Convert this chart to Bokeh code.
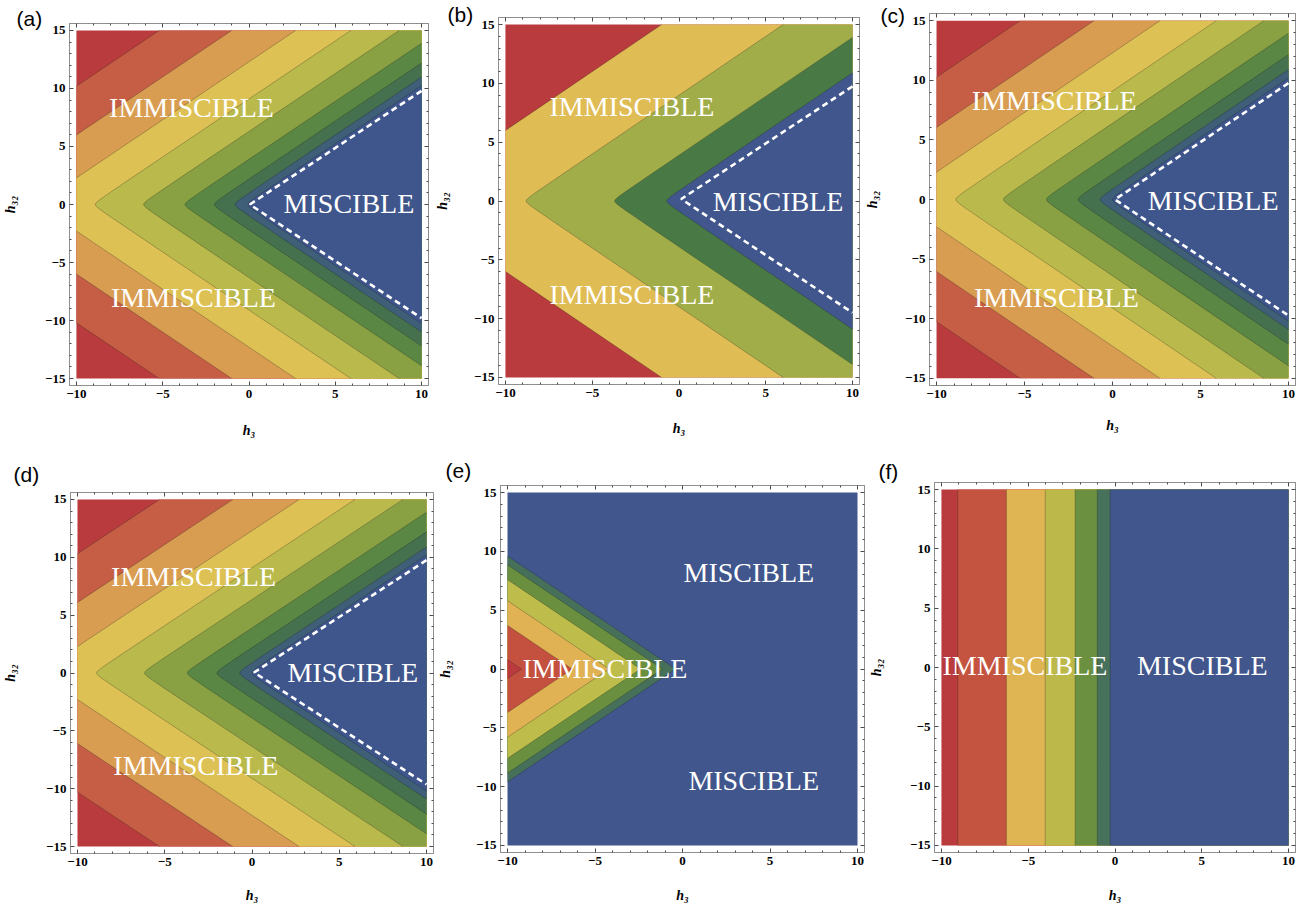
from bokeh.plotting import figure
from bokeh.models import ColumnDataSource, FixedTicker, LinearAxis, Range1d, Title
from bokeh.layouts import row, column
from bokeh.embed import file_html
from bokeh.resources import INLINE
from bokeh.core.properties import value

# ---------------- data ----------------
H3_LIMITS = [-10, 10]
H32_LIMITS = [-15, 15]
X_TICKS = [-10, -5, 0, 5, 10]
Y_TICKS = [-15, -10, -5, 0, 5, 10, 15]
X_MINOR = [v for v in range(-10, 11) if v % 5]
Y_MINOR = [v for v in range(-15, 16) if v % 5]
X_TITLE = "h\u2083"
Y_TITLE = "h\u2083\u2082"
PANEL_NAMES = ["(a)", "(b)", "(c)", "(d)", "(e)", "(f)"]

# contour boundaries (value of the level variable where the colour changes)
levels_a = [-20.2, -16.0, -12.3, -9.1, -6.3, -3.9, -2.2, -1.0, -0.25]
levels_b = [-16.0, -9.0, -3.9, -0.9]
levels_c = [-20.25, -16.05, -12.3, -9.1, -6.4, -3.95, -2.15, -0.9, -0.2]
levels_d = [-20.3, -16.1, -12.3, -9.1, -6.35, -3.9, -2.2, -0.9, -0.2]
levels_e = [-9.2, -6.3, -4.2, -2.4, -1.15, -0.4]
levels_f = [-9.06, -6.26, -4.02, -2.30, -1.02, -0.28]

colors_a = ["#B93B3D", "#C55E44", "#D99D52", "#DEC154", "#BABA4C",
            "#89A143", "#5A8743", "#46714F", "#3F5E77", "#3F568D"]
colors_b = ["#B93B3D", "#E0BC55", "#A1AD48", "#497A46", "#40568C"]
colors_e = ["#B93B3D", "#C4503F", "#E0B253", "#BEBC4A", "#6A903F", "#46705A", "#40568C"]
colors_f = ["#B93B3D", "#C4533F", "#DFB453", "#BDB84A", "#6A9040", "#47715A", "#40568C"]

# white dashed miscibility boundary
dash_x_a = [10, 0.05, 10]
dash_y_a = [9.8, 0.0, -9.8]
dash_x_b = [10, 0.13, 10]
dash_y_b = [9.75, 0.17, -9.5]
dash_x_c = [10, 0.14, 10]
dash_y_c = [9.76, 0.0, -9.73]
dash_x_d = [10, 0.12, 10]
dash_y_d = [9.75, 0.05, -9.63]

# region labels
text_a = ["IMMISCIBLE", "IMMISCIBLE", "MISCIBLE"]
tx_a = [-3.33, -3.22, 5.79]
ty_a = [8.4, -8.0, 0.06]
text_b = ["IMMISCIBLE", "IMMISCIBLE", "MISCIBLE"]
tx_b = [-2.71, -2.71, 5.71]
ty_b = [8.0, -7.97, 0.0]
text_c = ["IMMISCIBLE", "IMMISCIBLE", "MISCIBLE"]
tx_c = [-3.31, -3.19, 5.72]
ty_c = [8.3, -8.19, -0.05]
text_d = ["IMMISCIBLE", "IMMISCIBLE", "MISCIBLE"]
tx_d = [-3.35, -3.22, 5.78]
ty_d = [8.37, -8.0, 0.04]
text_e = ["MISCIBLE", "IMMISCIBLE", "MISCIBLE"]
tx_e = [3.79, -4.43, 4.07]
ty_e = [8.23, 0.01, -9.44]
text_f = ["IMMISCIBLE", "MISCIBLE"]
tx_f = [-5.19, 5.03]
ty_f = [0.13, 0.13]

# ---------------- styling / layout ----------------
FRAME = "#8f8f8f"
TICK = "#4a4a4a"
SERIF = "Liberation Serif"

# width, height, border l, r, t, b, y-title standoff, x-title standoff,
# panel-letter (offset, standoff), vertex rounding
GEOM = {
    "(a)": (432, 450, 66, 4, 23, 65, 24, 22, (-53, -12), 0.2),
    "(b)": (430, 450, 61, 3, 17, 66, 21, 21, (-51, -16), 0.2),
    "(c)": (438, 450, 62, 5, 13, 65, 22, 17, (-49, -26), 0.2),
    "(d)": (435, 455, 70, 2, 42, 51, 25, 19, (-57, 14), 0.2),
    "(e)": (431, 455, 62, 2, 35, 52, 20, 20, (-55, 8), 0.0),
    "(f)": (434, 455, 63, 5, 32, 52, 23, 20, (-56, 0), 0.0),
}

Y_SAMPLES = [0, 0.05, 0.1, 0.15, 0.2, 0.3, 0.4, 0.6, 0.8, 1.2, 2, 4, 8, 16, 30, 60]
FAR = 200.0


def clip_poly(poly, a, b, c):
    """keep part of polygon with a*x + b*y >= c"""
    out = []
    n = len(poly)
    for i in range(n):
        P, Q = poly[i], poly[(i + 1) % n]
        fp = a * P[0] + b * P[1] - c
        fq = a * Q[0] + b * Q[1] - c
        if fp >= 0:
            out.append(P)
        if (fp >= 0) != (fq >= 0):
            t = fp / (fp - fq)
            out.append((P[0] + t * (Q[0] - P[0]), P[1] + t * (Q[1] - P[1])))
    return out


def clip_to_rect(poly):
    for a, b, c in ((1, 0, H3_LIMITS[0]), (-1, 0, -H3_LIMITS[1]),
                    (0, 1, H32_LIMITS[0]), (0, -1, -H32_LIMITS[1])):
        poly = clip_poly(poly, a, b, c)
        if not poly:
            return []
    return poly


def clip_segment(P, Q):
    x0, y0 = P
    dx, dy = Q[0] - x0, Q[1] - y0
    t0, t1 = 0.0, 1.0
    for pk, qk in ((-dx, x0 - H3_LIMITS[0]), (dx, H3_LIMITS[1] - x0),
                   (-dy, y0 - H32_LIMITS[0]), (dy, H32_LIMITS[1] - y0)):
        if pk == 0:
            if qk < 0:
                return None
        else:
            t = qk / pk
            if pk < 0:
                t0 = max(t0, t)
            else:
                t1 = min(t1, t)
    if t0 >= t1:
        return None
    return (x0 + t0 * dx, y0 + t0 * dy), (x0 + t1 * dx, y0 + t1 * dy)


def boundary(kind, L, delta):
    ys = sorted(set([-s for s in Y_SAMPLES] + Y_SAMPLES))
    pts = []
    for y in ys:
        r = (y * y + delta * delta) ** 0.5
        if kind == "right":
            x = L + r
        elif kind == "left":
            x = L - r
        else:
            x = L
        pts.append((x, y))
    return pts


def bands(kind, levels, colors, delta):
    x0, x1 = H3_LIMITS
    y0, y1 = H32_LIMITS
    rect = [(x0, y0), (x1, y0), (x1, y1), (x0, y1)]
    polys = [rect]
    if kind == "left":
        cols = [colors[-1]]
        order = list(range(len(levels)))[::-1]
    else:
        cols = [colors[0]]
        order = list(range(len(levels)))
    for i in order:
        L = levels[i]
        curve = boundary(kind, L, delta)
        if kind == "left":
            poly = curve + [(-FAR, curve[-1][1]), (-FAR, curve[0][1])]
            col = colors[i]
        else:
            poly = curve + [(FAR, curve[-1][1]), (FAR, curve[0][1])]
            col = colors[i + 1]
        poly = clip_to_rect(poly)
        if poly:
            polys.append(poly)
            cols.append(col)
    lx, ly = [], []
    for L in levels:
        pts = boundary(kind, L, delta)
        cur = []
        for k in range(len(pts) - 1):
            seg = clip_segment(pts[k], pts[k + 1])
            if seg is None:
                if cur:
                    lx.append([p[0] for p in cur]); ly.append([p[1] for p in cur]); cur = []
                continue
            if cur and abs(cur[-1][0] - seg[0][0]) < 1e-9 and abs(cur[-1][1] - seg[0][1]) < 1e-9:
                cur.append(seg[1])
            else:
                if cur:
                    lx.append([p[0] for p in cur]); ly.append([p[1] for p in cur])
                cur = [seg[0], seg[1]]
        if cur:
            lx.append([p[0] for p in cur]); ly.append([p[1] for p in cur])
    return polys, cols, lx, ly


def style_axis(ax, ticks, minor, labels, title=None, title_standoff=0):
    ax.ticker = FixedTicker(ticks=ticks, minor_ticks=minor)
    ax.major_tick_in = 4
    ax.major_tick_out = 0
    ax.minor_tick_in = 2
    ax.minor_tick_out = 0
    ax.axis_line_color = FRAME
    ax.major_tick_line_color = TICK
    ax.minor_tick_line_color = TICK
    if labels:
        ax.major_label_text_font = SERIF
        ax.major_label_text_font_style = "bold"
        ax.major_label_text_font_size = "13px"
        ax.major_label_text_color = "black"
        ax.major_label_standoff = 4
        ax.major_label_overrides = {t: (str(t) if t >= 0 else "\u2212" + str(-t)) for t in ticks}
        ax.axis_label = title
        ax.axis_label_text_font = SERIF
        ax.axis_label_text_font_style = "bold italic"
        ax.axis_label_text_font_size = "14px"
        ax.axis_label_text_color = "black"
        ax.axis_label_standoff = title_standoff
    else:
        ax.major_label_text_font_size = "0px"
        ax.major_label_standoff = 0
        ax.major_label_overrides = {t: "" for t in ticks}


def make_panel(name, kind, levels, colors, dash_x, dash_y, txt, tx, ty):
    W, H, bl, br, bt, bb, ystd, xstd, (ox, ostd), delta = GEOM[name]
    px = 0.02 * (H3_LIMITS[1] - H3_LIMITS[0])
    py = 0.02 * (H32_LIMITS[1] - H32_LIMITS[0])
    xr = Range1d(H3_LIMITS[0] - px, H3_LIMITS[1] + px)
    yr = Range1d(H32_LIMITS[0] - py, H32_LIMITS[1] + py)
    p = figure(width=W, height=H, x_range=xr, y_range=yr,
               output_backend="svg", toolbar_location=None,
               x_axis_location=None, y_axis_location=None,
               min_border_left=bl, min_border_right=br,
               min_border_top=bt, min_border_bottom=bb)
    p.grid.visible = False
    p.outline_line_color = FRAME
    p.outline_line_width = 1
    p.background_fill_color = "white"
    p.border_fill_color = "white"

    polys, cols, lx, ly = bands(kind, levels, colors, delta)
    src = ColumnDataSource(dict(xs=[[q[0] for q in pl] for pl in polys],
                                ys=[[q[1] for q in pl] for pl in polys],
                                c=cols))
    p.patches("xs", "ys", source=src, fill_color="c", line_color=None)
    p.multi_line(lx, ly, line_color="#1e1e1e", line_alpha=0.35, line_width=0.8)

    if dash_x is not None:
        p.line(dash_x, dash_y, line_color="white", line_width=2.6, line_dash="6 4")

    tsrc = ColumnDataSource(dict(x=tx, y=ty, t=txt))
    p.text("x", "y", text="t", source=tsrc, text_color="white",
           text_font=value(SERIF), text_font_size=value("28px"),
           text_align="center", text_baseline="middle")

    bx = LinearAxis()
    style_axis(bx, X_TICKS, X_MINOR, True, X_TITLE, xstd)
    p.add_layout(bx, "below")
    ly_ax = LinearAxis()
    style_axis(ly_ax, Y_TICKS, Y_MINOR, True, Y_TITLE, ystd)
    p.add_layout(ly_ax, "left")
    tx_ax = LinearAxis()
    style_axis(tx_ax, X_TICKS, X_MINOR, False)
    p.add_layout(tx_ax, "above")
    ry_ax = LinearAxis()
    style_axis(ry_ax, Y_TICKS, Y_MINOR, False)
    p.add_layout(ry_ax, "right")

    p.add_layout(Title(text=name, align="left", vertical_align="bottom",
                       offset=ox, standoff=ostd,
                       text_font="Liberation Sans", text_font_size="21px",
                       text_font_style="normal", text_color="black"), "above")
    return p


pa = make_panel("(a)", "right", levels_a, colors_a, dash_x_a, dash_y_a, text_a, tx_a, ty_a)
pb = make_panel("(b)", "right", levels_b, colors_b, dash_x_b, dash_y_b, text_b, tx_b, ty_b)
pc = make_panel("(c)", "right", levels_c, colors_a, dash_x_c, dash_y_c, text_c, tx_c, ty_c)
pd = make_panel("(d)", "right", levels_d, colors_a, dash_x_d, dash_y_d, text_d, tx_d, ty_d)
pe = make_panel("(e)", "left", levels_e, colors_e, None, None, text_e, tx_e, ty_e)
pf = make_panel("(f)", "vertical", levels_f, colors_f, None, None, text_f, tx_f, ty_f)

# each figure in its own box so that frames are not aligned with neighbours
top = row(column(pa), column(pb), column(pc), spacing=0)
bottom = row(column(pd), column(pe), column(pf), spacing=0)
layout = column(top, bottom, spacing=0)

open("out.html", "w").write(file_html(layout, INLINE))
